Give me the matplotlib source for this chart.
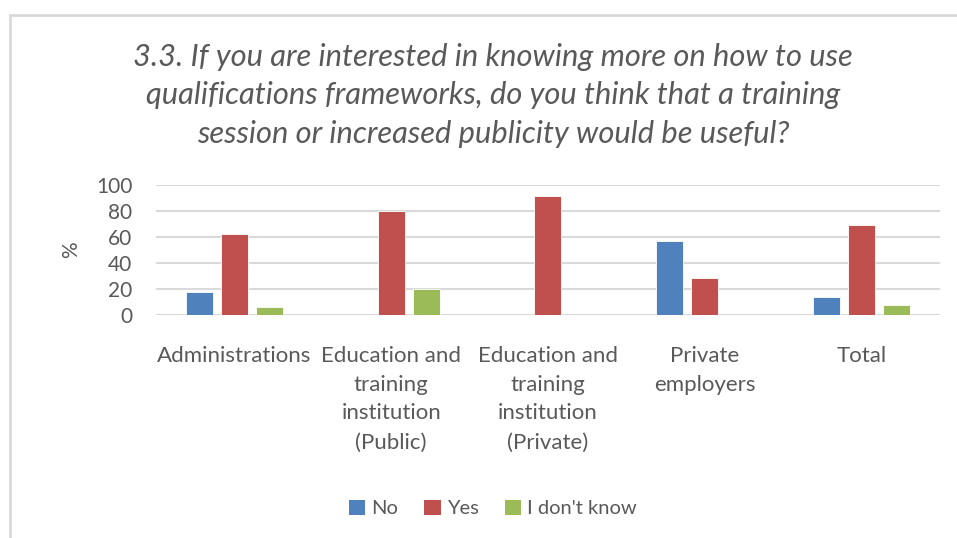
import numpy as np
import matplotlib.pyplot as plt
from matplotlib.patches import Patch

plt.rcParams['font.family'] = ['Lato', 'DejaVu Sans']

categories = ['Administrations', 'Education and\ntraining\ninstitution\n(Public)',
              'Education and\ntraining\ninstitution\n(Private)', 'Private\nemployers', 'Total']
no = [18, 0, 0, 57, 14]
yes = [62, 80, 91, 28, 69]
dont_know = [6, 20, 0, 0, 8]
series_names = ['No', 'Yes', "I don't know"]
colors = ['#4f81bd', '#c0504d', '#9bbb59']

grey = '#595959'

fig = plt.figure(figsize=(9.57, 5.38), dpi=100)
ax = fig.add_axes([0.163, 0.4145, 0.819, 0.2425])

x = np.arange(len(categories))
w = 0.172
step = 0.223
for i, (vals, c) in enumerate(zip([no, yes, dont_know], colors)):
    ax.bar(x + (i - 1) * step, vals, width=w, color=c, edgecolor='white', linewidth=0.6, zorder=3)

ax.set_xlim(-0.5, 4.5)
ax.set_ylim(0, 100)
ax.set_yticks(range(0, 101, 20))
ax.yaxis.grid(True, color='#d9d9d9', linewidth=1.5, zorder=0)
for s in ax.spines.values():
    s.set_visible(False)
ax.tick_params(axis='y', length=0, pad=17, labelsize=15, labelcolor=grey)
ax.tick_params(axis='x', length=0, pad=22, labelsize=16, labelcolor=grey)
ax.set_xticks(x)
ax.set_xticklabels(categories, linespacing=1.56, va='top')
ax.set_ylabel('%', fontsize=15, color=grey, labelpad=11)

fig.text(0.515, 0.823, '3.3. If you are interested in knowing more on how to use\n'
         'qualifications frameworks, do you think that a training\n'
         'session or increased publicity would be useful?',
         ha='center', va='center', fontsize=22.2, style='italic', color=grey, linespacing=1.46)

handles = [Patch(facecolor=c, label=n) for c, n in zip(colors, series_names)]
fig.legend(handles=handles, loc='center', bbox_to_anchor=(0.515, 0.055), ncol=3, frameon=False,
           fontsize=14.5, labelcolor=grey, handlelength=0.8, handleheight=0.8,
           handletextpad=0.3, columnspacing=1.3)

# chart border
fig.add_artist(plt.Line2D([9.5 / 957, 9.5 / 957], [0, 1 - 14.5 / 538], color='#d9d9d9', linewidth=2,
                          transform=fig.transFigure))
fig.add_artist(plt.Line2D([9.5 / 957, 1], [1 - 14.5 / 538, 1 - 14.5 / 538], color='#d9d9d9', linewidth=2,
                          transform=fig.transFigure))

fig.savefig('out.png', dpi=100)
